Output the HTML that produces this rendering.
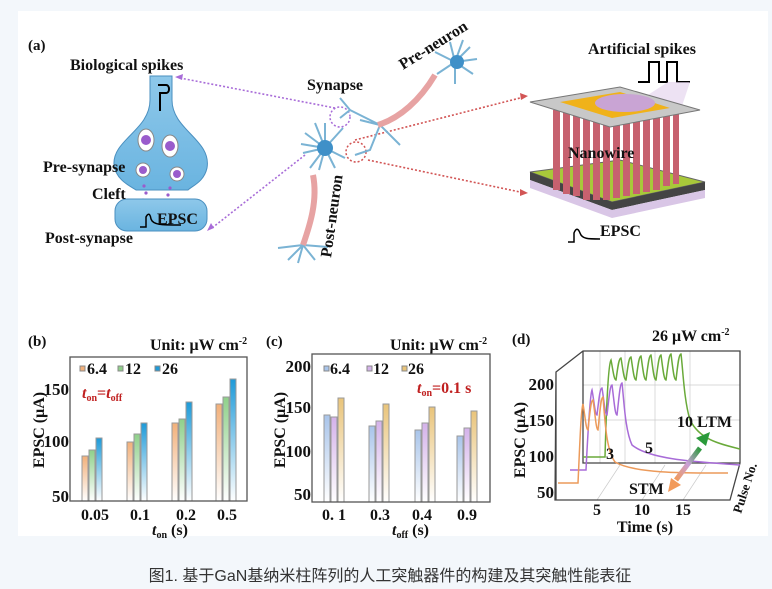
<!DOCTYPE html>
<html><head><meta charset="utf-8"><style>
html,body{margin:0;padding:0;background:#f3f7fb;}
svg{display:block;}
.b{font-family:"Liberation Serif",serif;font-weight:bold;fill:#111;}
</style></head><body>
<svg width="772" height="589" viewBox="0 0 772 589" xmlns="http://www.w3.org/2000/svg">
<defs>
<linearGradient id="go" x1="0" y1="0" x2="0" y2="1"><stop offset="0" stop-color="#f2b07a"/><stop offset="1" stop-color="#fff"/></linearGradient>
<linearGradient id="gg" x1="0" y1="0" x2="0" y2="1"><stop offset="0" stop-color="#8fd08a"/><stop offset="1" stop-color="#fff"/></linearGradient>
<linearGradient id="gb" x1="0" y1="0" x2="0" y2="1"><stop offset="0" stop-color="#1e9ad8"/><stop offset="1" stop-color="#fff"/></linearGradient>
<linearGradient id="cb" x1="0" y1="0" x2="0" y2="1"><stop offset="0" stop-color="#a8c4ea"/><stop offset="1" stop-color="#fff"/></linearGradient>
<linearGradient id="cp" x1="0" y1="0" x2="0" y2="1"><stop offset="0" stop-color="#d4b2ea"/><stop offset="1" stop-color="#fff"/></linearGradient>
<linearGradient id="ct" x1="0" y1="0" x2="0" y2="1"><stop offset="0" stop-color="#e9c47a"/><stop offset="1" stop-color="#fff"/></linearGradient>
<linearGradient id="arr" x1="0" y1="1" x2="1" y2="0"><stop offset="0" stop-color="#f29a5a"/><stop offset=".5" stop-color="#c9a0d8"/><stop offset="1" stop-color="#2a9a3a"/></linearGradient>
<linearGradient id="bulb" x1="0" y1="0" x2="0" y2="1"><stop offset="0" stop-color="#8ec8ea"/><stop offset="1" stop-color="#6ab4e0"/></linearGradient>
</defs>
<rect x="18" y="11" width="750" height="525" fill="#fff"/>

<!-- (a) -->
<text class="b" x="28" y="50" font-size="15">(a)</text>
<text class="b" x="70" y="70" font-size="16">Biological spikes</text>
<path d="M150,76 L172,76 L172,100 C172,130 212,140 207,168 C204,182 192,186 188,190 L136,190 C130,186 116,180 114,165 C112,140 150,130 150,100 Z" fill="url(#bulb)" stroke="#4a8fbf" stroke-width="1"/>
<path d="M158,85 h8 c4,0 4,8 0,8 h-6 v18" fill="none" stroke="#000" stroke-width="2"/>
<g fill="#fff" stroke="#888"><ellipse cx="146" cy="140" rx="8" ry="11"/><ellipse cx="170" cy="146" rx="8" ry="11"/><ellipse cx="143" cy="170" rx="7" ry="7"/><ellipse cx="177" cy="174" rx="7" ry="7"/></g>
<g fill="#9a5ccc"><circle cx="146" cy="140" r="5"/><circle cx="170" cy="146" r="5"/><circle cx="143" cy="170" r="4"/><circle cx="177" cy="174" r="4"/>
<circle cx="144" cy="186" r="1.6"/><circle cx="146" cy="193" r="1.6"/><circle cx="143" cy="200" r="1.6"/><circle cx="170" cy="188" r="1.6"/><circle cx="168" cy="195" r="1.6"/><circle cx="170" cy="202" r="1.6"/></g>
<rect x="115" y="199" width="92" height="32" rx="12" fill="url(#bulb)" stroke="#4a8fbf"/>
<path d="M140,227 h6 v-10 c2,-4 4,-4 5,2 c2,6 10,6 30,6" fill="none" stroke="#000" stroke-width="1.5"/>
<text class="b" x="157" y="224" font-size="16">EPSC</text>
<text class="b" x="43" y="172" font-size="16">Pre-synapse</text>
<text class="b" x="92" y="199" font-size="16">Cleft</text>
<text class="b" x="45" y="243" font-size="16">Post-synapse</text>

<!-- connectors -->
<g fill="none" stroke-dasharray="2,2" stroke-width="1.6">
<path d="M335,108 L180,78" stroke="#a86cd8"/>
<path d="M305,155 L212,228" stroke="#a86cd8"/>
<path d="M355,140 L520,98" stroke="#d25555"/>
<path d="M368,160 L520,192" stroke="#d25555"/>
</g>
<path d="M175,77 l8,-3 l-1,6z M207,231 l4,-8 l3,5z" fill="#a86cd8"/>
<path d="M528,96 l-8,-3 l1,7z M528,193 l-8,-4 l0,7z" fill="#d25555"/>
<circle cx="340" cy="117" r="10" fill="none" stroke="#a86cd8" stroke-dasharray="2,2" stroke-width="1.5"/>
<circle cx="356" cy="152" r="10" fill="none" stroke="#d25555" stroke-dasharray="2,2" stroke-width="1.5"/>

<!-- neurons -->
<g stroke="#7ab3d4" stroke-width="2" fill="none">
<path d="M325,148 l-20,-15 M325,148 l-22,5 M325,148 l-15,20 M325,148 l0,-25 M325,148 l18,-20 M325,148 l20,10 M325,148 l10,20 M325,148 l-10,-25 M325,148 l-24,-4 M325,148 l-6,22"/>
<path d="M455,62 l-20,-10 M455,62 l-5,-20 M455,62 l15,-15 M455,62 l22,-3 M455,62 l18,12 M455,62 l0,22 M455,62 l-18,12 M455,62 l8,-22"/>
<path d="M380,125 l-30,-15 l-10,8 M380,125 l-10,25 l-15,5 M380,125 l20,20 M380,125 l-20,-5 M350,110 l-10,-12"/>
<path d="M303,245 l-25,3 M303,245 l-15,15 M303,245 l-5,18 M303,245 l12,15 M303,245 l25,2"/>
</g>
<circle cx="325" cy="148" r="8" fill="#3f90c8"/>
<circle cx="457" cy="62" r="7" fill="#3f90c8"/>
<path d="M378,125 C400,118 420,100 435,75" stroke="#e7a3a3" stroke-width="6" fill="none"/>
<path d="M313,175 C318,200 310,225 303,245" stroke="#e7a3a3" stroke-width="6" fill="none"/>
<text class="b" x="307" y="90" font-size="16">Synapse</text>
<text class="b" font-size="16" transform="translate(403,70) rotate(-32)">Pre-neuron</text>
<text class="b" font-size="16" transform="translate(331,258) rotate(-82)">Post-neuron</text>

<!-- device -->
<text class="b" x="588" y="54" font-size="16">Artificial spikes</text>
<path d="M638,82 h11 v-20 h10 v20 h8 v-20 h10 v20 h13" fill="none" stroke="#000" stroke-width="2"/>
<path d="M640,100 L668,82 L690,82 L680,112Z" fill="#e6d6ee" opacity=".7"/>
<path d="M530,172 L620,160 L705,182 L612,202Z" fill="#a8c83a" stroke="#666"/>
<path d="M530,172 L612,202 L705,182 L705,190 L612,210 L530,180Z" fill="#444"/>
<path d="M530,180 L612,210 L705,190 L705,198 L612,218 L530,188Z" fill="#d9c6e6"/>
<g fill="#c7616f">
<rect x="553" y="110" width="7" height="80"/><rect x="563" y="112" width="7" height="82"/><rect x="573" y="110" width="7" height="86"/><rect x="583" y="112" width="7" height="88"/><rect x="593" y="110" width="7" height="90"/><rect x="603" y="112" width="7" height="88"/><rect x="613" y="110" width="7" height="88"/><rect x="623" y="112" width="7" height="84"/><rect x="633" y="110" width="7" height="84"/><rect x="643" y="112" width="7" height="80"/><rect x="653" y="110" width="7" height="80"/><rect x="663" y="112" width="7" height="74"/><rect x="673" y="110" width="6" height="74"/>
</g>
<path d="M530,102 L620,87 L700,110 L610,127Z" fill="#c8c8c8" stroke="#777"/>
<path d="M560,102 L620,92 L670,108 L612,118Z" fill="#f0b21a"/>
<ellipse cx="625" cy="103" rx="30" ry="9" fill="#c9a4d4"/>
<text class="b" x="568" y="158" font-size="16">Nanowire</text>
<path d="M568,242 h6 v-9 c2,-5 4,-5 6,0 c2,6 8,6 20,6" fill="none" stroke="#000" stroke-width="1.5"/>
<text class="b" x="600" y="236" font-size="16">EPSC</text>

<!-- (b) -->
<text class="b" x="28" y="346" font-size="15">(b)</text>
<text class="b" x="150" y="350" font-size="16">Unit: μW cm<tspan font-size="10" dy="-6">-2</tspan></text>
<g stroke="#999" stroke-width="1">
<rect x="82" y="456" width="6" height="45" fill="url(#go)"/><rect x="89" y="450" width="6" height="51" fill="url(#gg)"/><rect x="96" y="438" width="6" height="63" fill="url(#gb)"/>
<rect x="127" y="442" width="6" height="59" fill="url(#go)"/><rect x="134" y="434" width="6" height="67" fill="url(#gg)"/><rect x="141" y="423" width="6" height="78" fill="url(#gb)"/>
<rect x="172" y="423" width="6" height="78" fill="url(#go)"/><rect x="179" y="419" width="6" height="82" fill="url(#gg)"/><rect x="186" y="402" width="6" height="99" fill="url(#gb)"/>
<rect x="216" y="404" width="6" height="97" fill="url(#go)"/><rect x="223" y="397" width="6" height="104" fill="url(#gg)"/><rect x="230" y="379" width="6" height="122" fill="url(#gb)"/>
</g>
<rect x="70" y="357" width="177" height="144" fill="none" stroke="#555" stroke-width="1.3"/>
<g class="b" font-size="17" text-anchor="end"><text x="69" y="395">150</text><text x="69" y="447">100</text><text x="69" y="502">50</text></g>
<text class="b" font-size="16" text-anchor="middle" transform="translate(44,430) rotate(-90)">EPSC (μA)</text>
<rect x="80" y="366" width="5" height="5" fill="#f2b07a" stroke="#888"/><text class="b" x="87" y="374" font-size="16">6.4</text>
<rect x="118" y="366" width="5" height="5" fill="#8fd08a" stroke="#888"/><text class="b" x="125" y="374" font-size="16">12</text>
<rect x="155" y="366" width="5" height="5" fill="#1e9ad8" stroke="#888"/><text class="b" x="162" y="374" font-size="16">26</text>
<text class="b" x="82" y="398" font-size="16" style="fill:#c02020"><tspan font-style="italic">t</tspan><tspan font-size="10" dy="3">on</tspan><tspan dy="-3">=</tspan><tspan font-style="italic">t</tspan><tspan font-size="10" dy="3">off</tspan></text>
<g class="b" font-size="16" text-anchor="middle"><text x="95" y="520">0.05</text><text x="140" y="520">0.1</text><text x="186" y="520">0.2</text><text x="227" y="520">0.5</text></g>
<text class="b" x="152" y="535" font-size="16"><tspan font-style="italic">t</tspan><tspan font-size="10" dy="3">on</tspan><tspan dy="-3"> (s)</tspan></text>

<!-- (c) -->
<text class="b" x="266" y="346" font-size="15">(c)</text>
<text class="b" x="390" y="350" font-size="16">Unit: μW cm<tspan font-size="10" dy="-6">-2</tspan></text>
<g stroke="#999" stroke-width="1">
<rect x="324" y="415" width="6" height="87" fill="url(#cb)"/><rect x="331" y="417" width="6" height="85" fill="url(#cp)"/><rect x="338" y="398" width="6" height="104" fill="url(#ct)"/>
<rect x="369" y="426" width="6" height="76" fill="url(#cb)"/><rect x="376" y="421" width="6" height="81" fill="url(#cp)"/><rect x="383" y="404" width="6" height="98" fill="url(#ct)"/>
<rect x="415" y="430" width="6" height="72" fill="url(#cb)"/><rect x="422" y="423" width="6" height="79" fill="url(#cp)"/><rect x="429" y="407" width="6" height="95" fill="url(#ct)"/>
<rect x="457" y="436" width="6" height="66" fill="url(#cb)"/><rect x="464" y="428" width="6" height="74" fill="url(#cp)"/><rect x="471" y="411" width="6" height="91" fill="url(#ct)"/>
</g>
<rect x="312" y="354" width="178" height="148" fill="none" stroke="#555" stroke-width="1.3"/>
<g class="b" font-size="17" text-anchor="end"><text x="311" y="372">200</text><text x="311" y="413">150</text><text x="311" y="457">100</text><text x="311" y="500">50</text></g>
<text class="b" font-size="16" text-anchor="middle" transform="translate(285,430) rotate(-90)">EPSC (μA)</text>
<rect x="324" y="366" width="5" height="5" fill="#a8c4ea" stroke="#888"/><text class="b" x="330" y="374" font-size="16">6.4</text>
<rect x="367" y="366" width="5" height="5" fill="#d4b2ea" stroke="#888"/><text class="b" x="373" y="374" font-size="16">12</text>
<rect x="402" y="366" width="5" height="5" fill="#e9c47a" stroke="#888"/><text class="b" x="408" y="374" font-size="16">26</text>
<text class="b" x="417" y="393" font-size="16" style="fill:#c02020"><tspan font-style="italic">t</tspan><tspan font-size="10" dy="3">on</tspan><tspan dy="-3">=0.1 s</tspan></text>
<g class="b" font-size="16" text-anchor="middle"><text x="334" y="520">0. 1</text><text x="380" y="520">0.3</text><text x="422" y="520">0.4</text><text x="467" y="520">0.9</text></g>
<text class="b" x="392" y="535" font-size="16"><tspan font-style="italic">t</tspan><tspan font-size="10" dy="3">off</tspan><tspan dy="-3"> (s)</tspan></text>

<!-- (d) -->
<text class="b" x="512" y="344" font-size="15">(d)</text>
<text class="b" x="652" y="341" font-size="16">26 μW cm<tspan font-size="10" dy="-6">-2</tspan></text>
<g fill="none" stroke="#ccc" stroke-width=".7">
<path d="M583,385 h157 M583,420 h157 M600,351 v112 M625,351 v112 M655,351 v112 M690,351 v112 M597,500 L620,465 M642,500 L665,465 M683,500 L706,465"/>
</g>
<g fill="none" stroke="#444" stroke-width="1.3">
<path d="M556,372 L583,351 L740,351 L740,463 L730,500 L555,500 Z M583,351 L583,463 L740,463 M556,372 L556,500"/>
</g>
<path d="M583,457 h22 C606,420 608,365 611,360 C613,370 614,380 616,380 C618,365 619,358 621,358 C623,370 624,380 626,380 C628,365 629,357 631,357 C633,370 634,380 636,380 C638,365 639,356 641,356 C643,370 644,380 646,380 C648,365 649,355 651,355 C653,370 654,380 656,380 C658,365 659,355 661,355 C663,370 664,380 666,380 C668,365 669,354 671,354 C673,370 674,380 676,380 C678,362 679,354 681,354 C683,370 684,400 690,420 C700,440 720,444 740,449" fill="none" stroke="#6aaa3a" stroke-width="1.5"/>
<path d="M570,470 h16 C588,430 590,395 592,390 C594,400 595,415 597,415 C599,398 600,388 602,388 C604,400 605,415 607,415 C609,398 610,385 612,385 C614,400 615,415 617,415 C619,398 620,383 622,383 C624,400 625,430 632,445 C650,460 700,462 740,465" fill="none" stroke="#a86cd8" stroke-width="1.5"/>
<path d="M558,483 h20 C580,440 581,410 583,404 C585,415 586,430 588,430 C590,410 591,400 593,400 C595,412 596,430 598,430 C600,410 601,397 603,397 C605,420 606,450 615,462 C635,474 690,473 728,473" fill="none" stroke="#ec9a5a" stroke-width="1.5"/>
<path d="M676,480 L700,448" stroke="url(#arr)" stroke-width="5"/>
<path d="M668,492 l3,-14 l10,7z" fill="#f29a5a"/>
<path d="M710,432 l-14,6 l10,8z" fill="#2a9a3a"/>
<g class="b" font-size="16"><text x="606" y="459">3</text><text x="645" y="453">5</text><text x="677" y="427">10 LTM</text><text x="629" y="494">STM</text></g>
<g class="b" font-size="17" text-anchor="end"><text x="554" y="390">200</text><text x="554" y="426">150</text><text x="554" y="462">100</text><text x="554" y="498">50</text></g>
<text class="b" font-size="16" text-anchor="middle" transform="translate(525,440) rotate(-90)">EPSC (μA)</text>
<g class="b" font-size="16" text-anchor="middle"><text x="597" y="515">5</text><text x="642" y="515">10</text><text x="683" y="515">15</text></g>
<text class="b" x="645" y="532" font-size="16" text-anchor="middle">Time (s)</text>
<text class="b" font-size="13" transform="translate(741,514) rotate(-72)">Pulse No.</text>

<!-- caption -->
<text x="390" y="581" font-size="16" text-anchor="middle" fill="#333" font-family="'Liberation Sans','Noto Sans CJK SC',sans-serif">图1. 基于GaN基纳米柱阵列的人工突触器件的构建及其突触性能表征</text>
</svg>
</body></html>
